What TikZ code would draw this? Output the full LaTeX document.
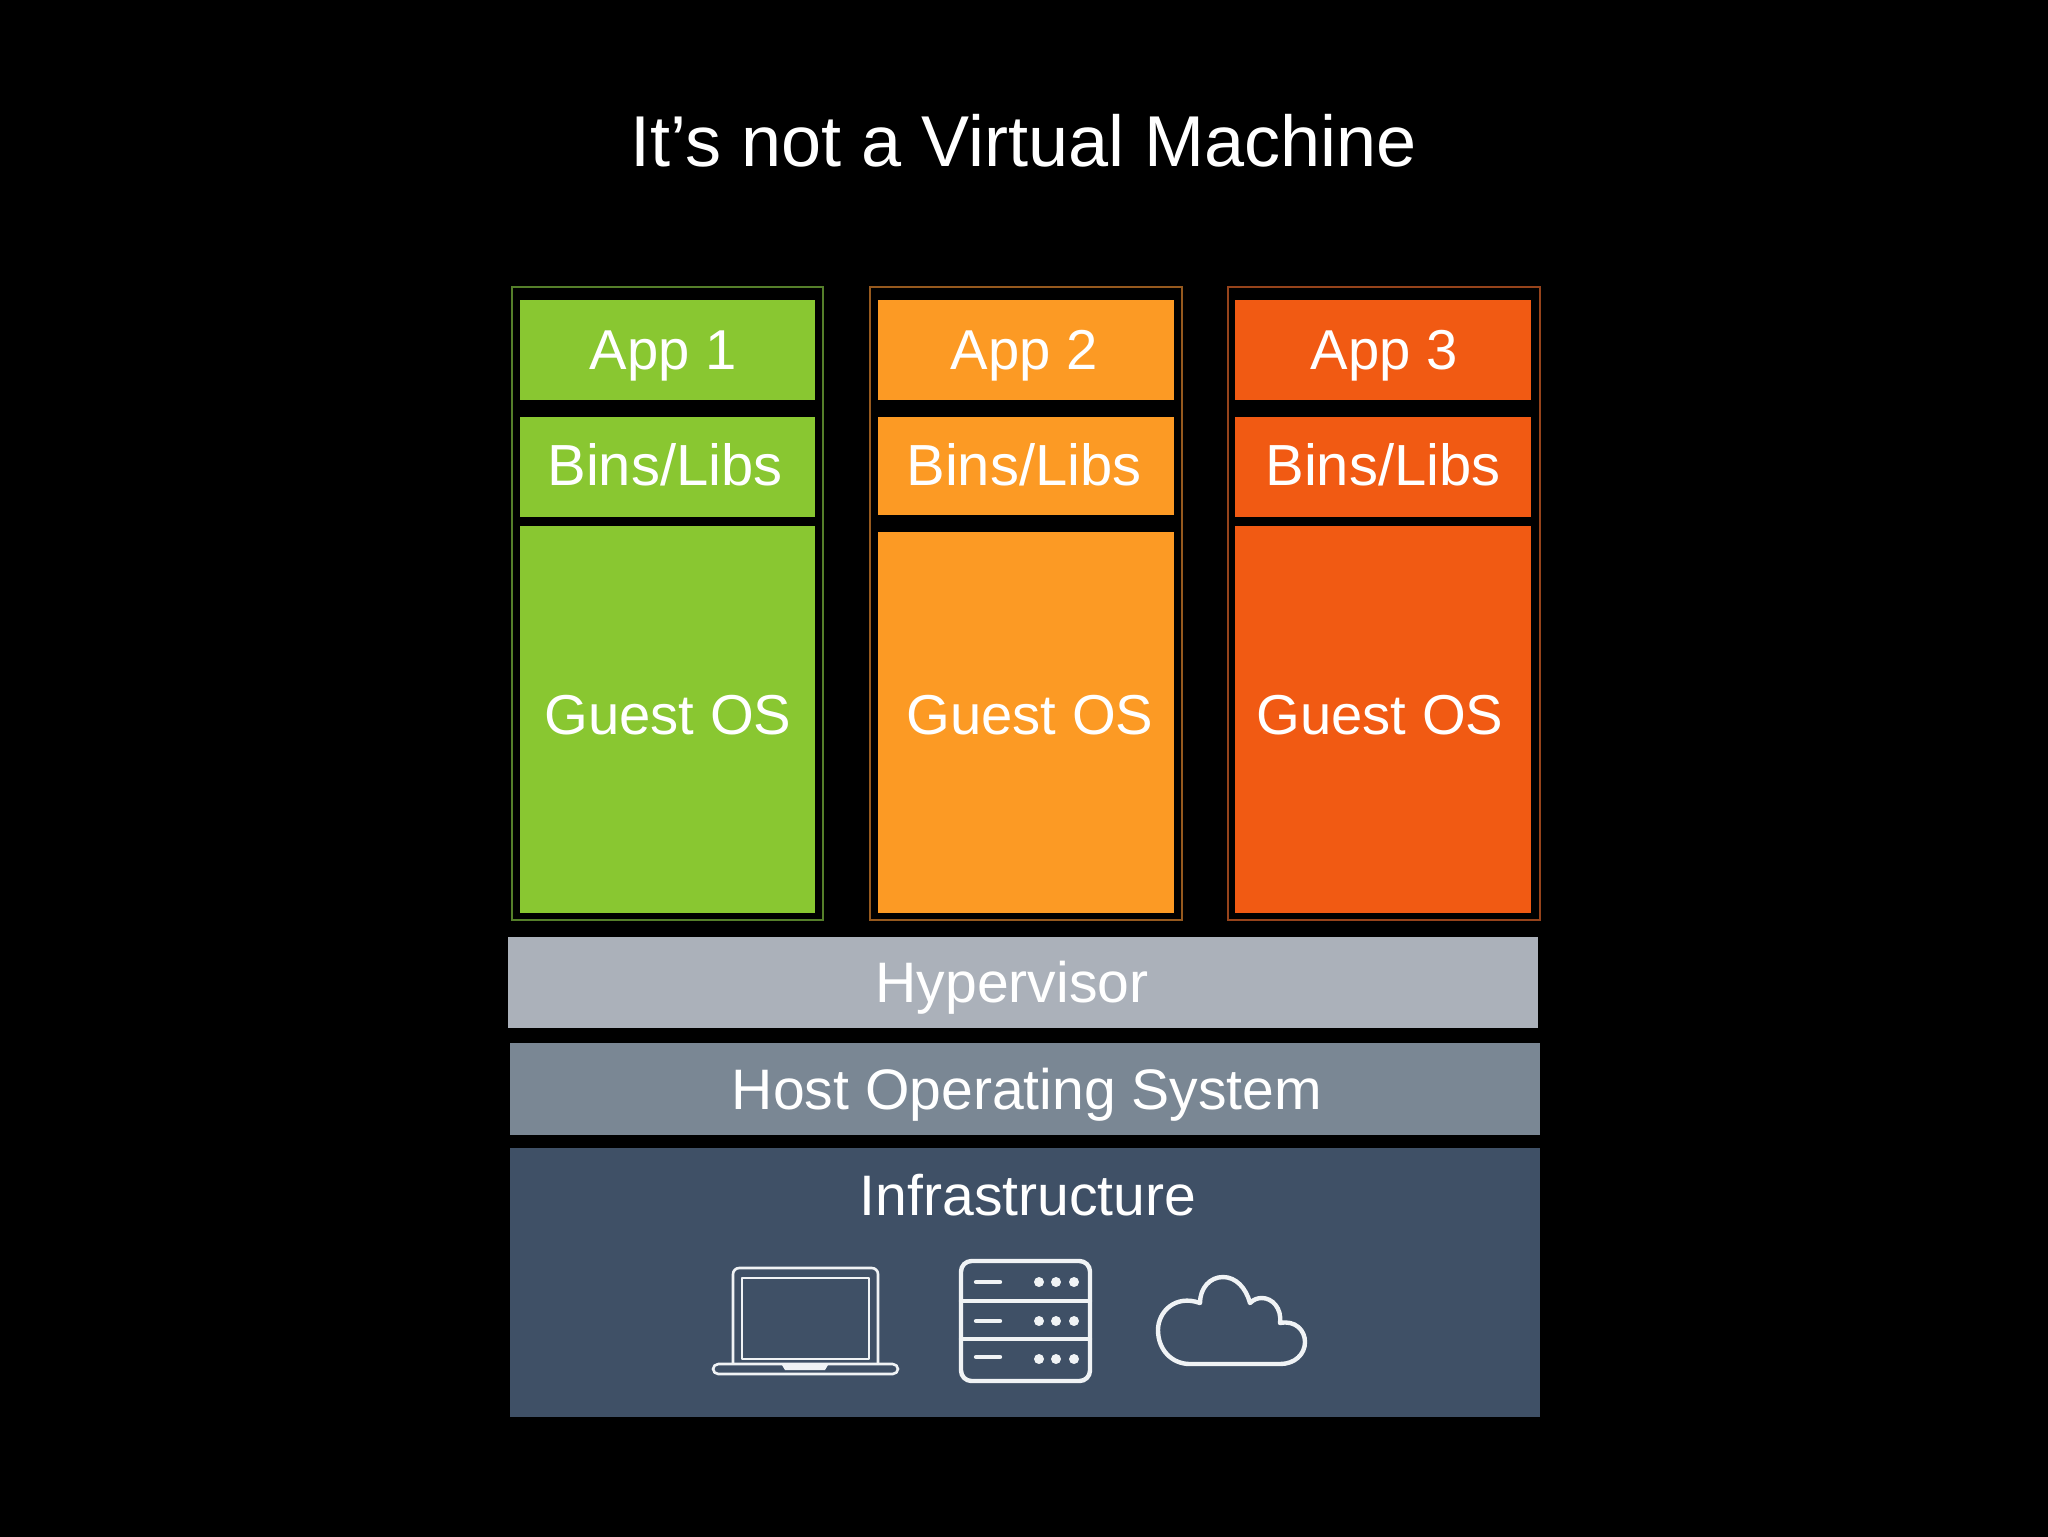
\documentclass[tikz,border=0pt]{standalone}
\usepackage{fontspec}
\setmainfont{Liberation Sans}
\definecolor{gA}{HTML}{89C731}\definecolor{oA}{HTML}{FC9A24}\definecolor{rA}{HTML}{F15A13}
\definecolor{gL}{HTML}{557F2A}\definecolor{oL}{HTML}{96591E}\definecolor{rL}{HTML}{96431B}
\definecolor{hyp}{HTML}{ABB1BA}\definecolor{hos}{HTML}{7A8794}\definecolor{inf}{HTML}{3F5066}
\definecolor{ico}{HTML}{F0F3F5}
\tikzset{
  x=0.02cm,y=-0.02cm,
  lab/.style={text=white,anchor=base,inner sep=0pt,font=\fontsize{32}{36}\selectfont},
  binlab/.style={lab,font=\fontsize{33}{36}\selectfont},
  barlab/.style={lab,font=\fontsize{32.5}{36}\selectfont},
  ttl/.style={text=white,anchor=base,inner sep=0pt,font=\fontsize{41}{48}\selectfont},
  icon/.style={draw=ico,line width=2.5pt,line join=round,line cap=round},
  iconthin/.style={draw=ico,line width=1.5pt,line join=round},
  outer/.style={line width=0.8pt,fill=black},
}
\begin{document}
\begin{tikzpicture}
\useasboundingbox (0,0) rectangle (2048,1536);
\fill[black] (-10,-10) rectangle (2058,1546);
\node[ttl] (title) at (1024,166) {It’s not a Virtual Machine};
% VM outlines
\draw[outer,draw=gL] (512,287) rectangle (823,920);
\draw[outer,draw=oL] (870,287) rectangle (1182,920);
\draw[outer,draw=rL] (1228,287) rectangle (1540,920);
% VM 1
\fill[gA] (520,300) rectangle (815,400);
\fill[gA] (520,417) rectangle (815,517);
\fill[gA] (520,526) rectangle (815,913);
% VM 2
\fill[oA] (878,300) rectangle (1174,400);
\fill[oA] (878,417) rectangle (1174,515);
\fill[oA] (878,532) rectangle (1174,913);
% VM 3
\fill[rA] (1235,300) rectangle (1531,400);
\fill[rA] (1235,417) rectangle (1531,517);
\fill[rA] (1235,526) rectangle (1531,913);
% Bars
\fill[hyp] (508,937) rectangle (1538,1028);
\fill[hos] (510,1043) rectangle (1540,1135);
\fill[inf] (510,1148) rectangle (1540,1417);
% Labels
\node[lab] (a1) at (663,369) {App 1};
\node[lab] (a2) at (1024,369) {App 2};
\node[lab] (a3) at (1384,369) {App 3};
\node[binlab] (b1) at (665,485) {Bins/Libs};
\node[binlab] (b2) at (1024,485) {Bins/Libs};
\node[binlab] (b3) at (1383,485) {Bins/Libs};
\node[lab] (g1) at (668,734) {Guest OS};
\node[lab] (g2) at (1030,734) {Guest OS};
\node[lab] (g3) at (1380,734) {Guest OS};
\node[barlab] (hv) at (1012,1002) {Hypervisor};
\node[barlab] (ho) at (1027,1109) {Host Operating System};
\node[barlab] (in) at (1028,1215) {Infrastructure};
% Laptop
\draw[iconthin,rounded corners=3.5pt] (733,1364) -- (733,1268) -- (878,1268) -- (878,1364);
\draw[iconthin] (742,1359) -- (742,1278) -- (869,1278) -- (869,1359) -- cycle;
\draw[iconthin,rounded corners=3pt] (713,1364) -- (898,1364) -- (898,1374) -- (713,1374) -- cycle;
\fill[ico] (782,1365) -- (828,1365) -- (825,1370) -- (785,1370) -- cycle;
% Server
\draw[icon,rounded corners=6pt] (961,1261) rectangle (1090,1381);
\draw[icon] (961,1301) -- (1090,1301) (961,1339) -- (1090,1339);
\draw[icon] (976,1282) -- (1000,1282) (976,1321) -- (1000,1321) (976,1357) -- (1000,1357);
\foreach \yy in {1282,1321,1359}{
  \foreach \xx in {1039,1056,1074}{
    \fill[ico] (\xx,\yy) circle[radius=5];
  }
}
% Cloud
\draw[icon] (1190,1364) -- (1280,1364)
  .. controls (1295,1364) and (1305,1354) .. (1305,1342)
  .. controls (1305,1330) and (1295,1320) .. (1280,1323)
  .. controls (1282,1308) and (1272,1298) .. (1262,1298)
  .. controls (1258,1298) and (1254,1299) .. (1250,1303)
  .. controls (1246,1288) and (1236,1277) .. (1223,1277)
  .. controls (1210,1277) and (1200,1288) .. (1200,1303)
  .. controls (1175,1294) and (1158,1312) .. (1158,1330)
  .. controls (1158,1350) and (1172,1364) .. (1190,1364) -- cycle;
\end{tikzpicture}
\end{document}
